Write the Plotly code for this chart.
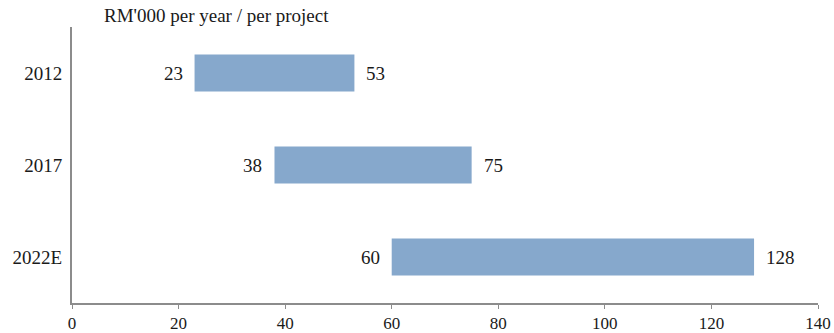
import plotly.graph_objects as go

years = ["2012", "2017", "2022E"]
low = [23, 38, 60]
high = [53, 75, 128]
x_ticks = [0, 20, 40, 60, 80, 100, 120, 140]
unit_label = "RM'000 per year / per project"

font = dict(family="Liberation Serif, Times New Roman, serif", size=19, color="#1a1a1a")
xfont = dict(family="Liberation Serif, Times New Roman, serif", size=17, color="#1a1a1a")
bar_color = "#86a8cc"

pos = list(range(len(years)))

fig = go.Figure()
fig.add_trace(go.Bar(
    y=pos, x=[h - l for l, h in zip(low, high)], base=low,
    orientation="h", marker=dict(color=bar_color, line=dict(width=0)),
    width=0.4, hoverinfo="skip", showlegend=False,
))

annotations = []
for p, l, h in zip(pos, low, high):
    annotations.append(dict(x=l, y=p, xref="x", yref="y", text=str(l), showarrow=False,
                            xanchor="right", xshift=-10, font=font))
    annotations.append(dict(x=h, y=p, xref="x", yref="y", text=str(h), showarrow=False,
                            xanchor="left", xshift=10, font=font))
annotations.append(dict(text=unit_label, xref="paper", yref="paper", x=0.040, y=1,
                        xanchor="left", yanchor="bottom", showarrow=False, font=font, yshift=-1))

fig.update_layout(
    width=834, height=333,
    margin=dict(l=72, r=16, t=27, b=30),
    plot_bgcolor="white", paper_bgcolor="white",
    font=font,
    xaxis=dict(range=[0, 140], tickvals=x_ticks, showgrid=False, zeroline=False,
               showline=True, linecolor="#8c8c8c", linewidth=2,
               ticks="outside", ticklen=4, tickcolor="#8c8c8c", tickwidth=1,
               tickfont=xfont, ticklabelstandoff=0, fixedrange=True, automargin=False),
    yaxis=dict(range=[len(years) - 0.5, -0.5], tickvals=pos, ticktext=years,
               showgrid=False, zeroline=False,
               showline=True, linecolor="#8c8c8c", linewidth=2,
               ticks="", tickfont=font, ticklabelstandoff=4,
               fixedrange=True, automargin=False),
    annotations=annotations,
)

fig.write_html("out.html")
